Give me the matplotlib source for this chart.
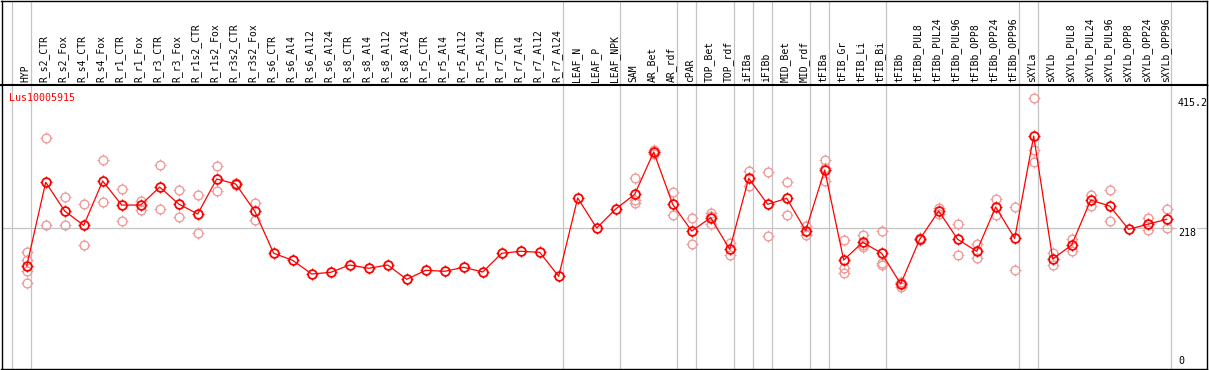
import numpy as np
import matplotlib
matplotlib.use("Agg")
import matplotlib.pyplot as plt
from matplotlib.path import Path
from matplotlib.transforms import blended_transform_factory

# ---------------- data ----------------
categories = [
    "HYP",
    "R_s2_CTR", "R_s2_Fox", "R_s4_CTR", "R_s4_Fox", "R_r1_CTR", "R_r1_Fox",
    "R_r3_CTR", "R_r3_Fox", "R_r1s2_CTR", "R_r1s2_Fox", "R_r3s2_CTR", "R_r3s2_Fox",
    "R_s6_CTR", "R_s6_Al4", "R_s6_Al12", "R_s6_Al24",
    "R_s8_CTR", "R_s8_Al4", "R_s8_Al12", "R_s8_Al24",
    "R_r5_CTR", "R_r5_Al4", "R_r5_Al12", "R_r5_Al24",
    "R_r7_CTR", "R_r7_Al4", "R_r7_Al12", "R_r7_Al24",
    "LEAF_N", "LEAF_P", "LEAF_NPK",
    "SAM", "AR_Bet", "AR_rdf", "cPAR", "TOP_Bet", "TOP_rdf",
    "iFIBa", "iFIBb", "MID_Bet", "MID_rdf",
    "tFIBa", "tFIB_Gr", "tFIB_Li", "tFIB_Bi",
    "tFIBb", "tFIBb_PUL8", "tFIBb_PUL24", "tFIBb_PUL96",
    "tFIBb_OPP8", "tFIBb_OPP24", "tFIBb_OPP96",
    "sXYLa", "sXYLb", "sXYLb_PUL8", "sXYLb_PUL24", "sXYLb_PUL96",
    "sXYLb_OPP8", "sXYLb_OPP24", "sXYLb_OPP96",
]

means = [
    160.8,
    287.8, 244.2, 222.5, 289.7, 253.3, 253.3,
    280.6, 254.9, 239.7, 292.8, 285.2, 244.2,
    180.1, 169.4, 148.7, 151.2,
    162.3, 157.3, 162.3, 140.6,
    154.3, 152.8, 158.8, 151.7,
    180.1, 183.1, 181.6, 145.2,
    264.0, 218.4, 247.3,
    269.6, 333.7, 254.4, 213.9, 234.1, 186.1,
    293.8, 254.4, 263.5, 214.4,
    306.4, 169.9, 196.8, 180.1,
    133.5, 201.3, 244.2, 201.3,
    183.1, 250.3, 202.8,
    358.0, 171.4, 192.7, 260.9, 251.8,
    216.5, 224.1, 231.6,
]

replicates = [
    [182.0, 169.9, 153.7, 134.6],
    [354.5, 222.5], [265.5, 222.5], [254.4, 192.2], [321.2, 257.4],
    [277.2, 228.6], [259.9, 245.8], [313.6, 246.8], [275.6, 234.7],
    [268.1, 210.4], [312.0, 274.1], [287.0, 283.0], [256.4, 230.1],
    [], [], [], [],
    [], [], [], [],
    [], [], [], [],
    [], [], [], [],
    [], [], [],
    [293.8, 260.9, 256.8], [337.0, 334.0, 330.0], [272.6, 238.2],
    [233.6, 193.7], [240.7, 236.7, 225.0], [196.2, 177.9],
    [304.9, 282.2], [302.9, 206.3], [288.2, 237.7], [221.9, 207.8],
    [321.6, 309.0, 290.2], [199.8, 158.2, 150.6], [207.8, 190.1, 192.7],
    [213.4, 164.9, 161.9],
    [137.0, 128.5, 135.0], [203.0, 200.0], [248.3, 239.7], [224.1, 177.0],
    [194.2, 172.5], [262.4, 238.6], [249.9, 154.3],
    [415.2, 336.8, 318.6], [181.0, 161.9], [201.3, 183.1], [268.5, 251.8],
    [276.1, 228.6], [], [233.6, 215.0], [246.8, 218.0],
]

# group separators: a gray line right after these category indices
separators_after = [-1, 0, 28, 31, 34, 35, 37, 38, 39, 41, 42, 45, 52, 53, 60]

gene_name = "Lus10005915"
ref_value = 218
max_label = "415.2"
mid_label = "218"
min_label = "0"

# ---------------- figure ----------------
W, H = 1209, 370
fig = plt.figure(figsize=(W / 100, H / 100), dpi=100)

mono = ["DejaVu Sans Mono"]
RED = "#ff0000"
PINK = "#f09a9a"
GRAY = "#c4c4c4"

left_px, right_px = 1.5, 1206.7
header_bottom_px = 85
bottom_px = 369.3
x0_px, step_px = 26.7, 19.0
xlim = ((left_px - x0_px) / step_px, (right_px - x0_px) / step_px)

ax_h = fig.add_axes([left_px / W, 1 - header_bottom_px / H,
                     (right_px - left_px) / W, (header_bottom_px - 0.6) / H])
ax = fig.add_axes([left_px / W, 1 - bottom_px / H,
                   (right_px - left_px) / W, (bottom_px - header_bottom_px) / H])

for a in (ax_h, ax):
    a.set_xlim(*xlim)
    a.set_xticks([])
    a.set_yticks([])
    for s in a.spines.values():
        s.set_color("black")
        s.set_linewidth(1.0)
ax.spines["top"].set_linewidth(1.5)
ax_h.set_ylim(0, 1)
ax.set_ylim(4.1, 435.4)

n = len(categories)
x = np.arange(n)
sep_off = 4.0 / step_px

# header labels
for i, lab in enumerate(categories):
    ax_h.text(i - 0.08, 0.03, lab, rotation=90, ha="center", va="bottom",
              fontsize=7, family=mono, color="black")

# vertical separators
for s in separators_after:
    for a in (ax_h, ax):
        a.axvline(s + sep_off, color=GRAY, lw=0.9, zorder=0)

# horizontal reference line
ax.axhline(ref_value, color=GRAY, lw=0.9, zorder=0)

# small tick marks around the circles
R_IN, R_OUT = 1.0, 1.4
tv, tc = [], []
for dx, dy in [(1, 0), (-1, 0), (0, 1), (0, -1)]:
    tv += [(dx * R_IN, dy * R_IN), (dx * R_OUT, dy * R_OUT)]
    tc += [Path.MOVETO, Path.LINETO]
tick_marker = Path(np.array(tv, dtype=float), np.array(tc))

CIRC_MS = 6.3
TICK_MS = 2 * R_OUT * CIRC_MS / 2

# replicates
rx, ry = [], []
for i, reps in enumerate(replicates):
    for v in reps:
        rx.append(i)
        ry.append(v)
ax.plot(rx, ry, ls="none", marker="o", ms=CIRC_MS, mfc="none",
        mec=PINK, mew=1.0, zorder=2)
ax.plot(rx, ry, ls="none", marker=tick_marker, ms=TICK_MS,
        mec=PINK, mew=0.8, zorder=2)

# means
ax.plot(x, means, color=RED, lw=0.9, zorder=3)
ax.plot(x, means, ls="none", marker="o", ms=CIRC_MS, mfc="none",
        mec=RED, mew=1.3, zorder=4)
ax.plot(x, means, ls="none", marker=tick_marker, ms=TICK_MS,
        mec=RED, mew=0.9, zorder=4)

# gene label
ax.text(0.0065, 0.955, gene_name, transform=ax.transAxes, ha="left", va="center",
        fontsize=7.2, family=mono, color=RED)

# right-side value labels
lx = (n - 1) + 0.59
ax.text(lx, 415.2, max_label, ha="left", va="top", fontsize=7.2, family=mono,
        color="black", zorder=5)
ax.text(lx, ref_value, mid_label, ha="left", va="top", fontsize=7.2, family=mono,
        color="black", zorder=5,
        bbox=dict(facecolor="white", edgecolor="none", pad=0.5))
tr = blended_transform_factory(ax.transData, ax.transAxes)
ax.text(lx, 0.012, min_label, transform=tr, ha="left", va="bottom",
        fontsize=7.2, family=mono, color="black", zorder=5)

fig.savefig("out.png", dpi=100, facecolor="white")
